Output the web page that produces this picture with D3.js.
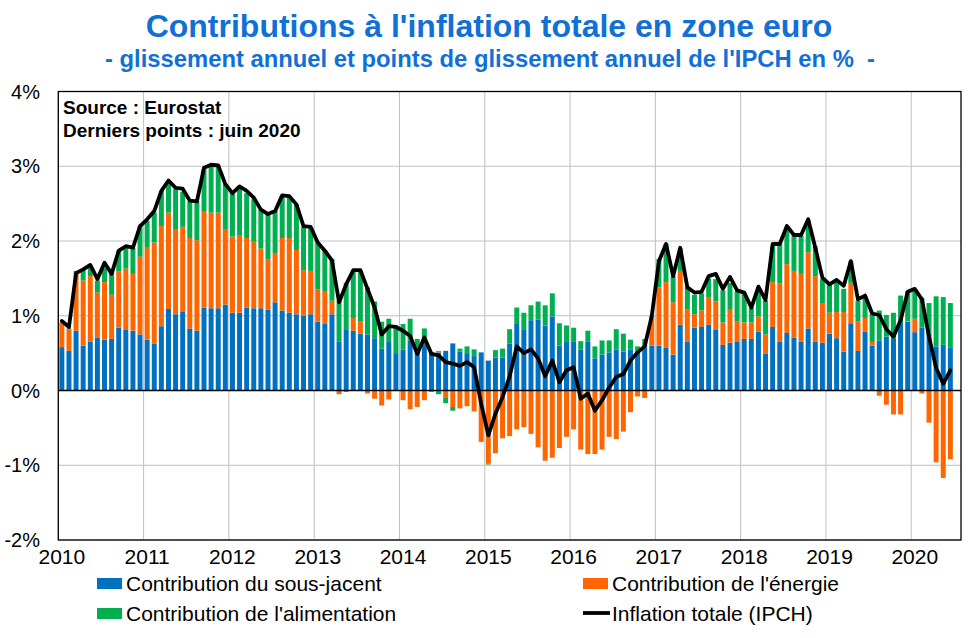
<!DOCTYPE html>
<html><head><meta charset="utf-8">
<script src="https://cdn.jsdelivr.net/npm/d3@7"></script>
<style>body{margin:0;background:#fff} svg{display:block;font-family:"Liberation Sans",Arial,sans-serif}</style>
</head><body><svg id="c" width="976" height="638"></svg>
<script>
const yearLabels = ["2010","2011","2012","2013","2014","2015","2016","2017","2018","2019","2020"];
const yTicks = [-2,-1,0,1,2,3,4];
const seriesNames = ["Contribution du sous-jacent","Contribution de l'énergie","Contribution de l'alimentation","Inflation totale (IPCH)"];
// monthly, Jan 2010 .. Jun 2020
const core = [
0.58,0.53,0.80,0.60,0.65,0.71,0.68,0.69,0.84,0.81,0.80,0.75,
0.68,0.63,0.86,1.09,1.02,1.05,0.83,0.80,1.11,1.10,1.10,1.15,
1.04,1.04,1.11,1.10,1.10,1.08,1.18,1.07,1.04,1.02,1.00,1.02,
0.92,0.89,1.02,0.65,0.81,0.80,0.76,0.75,0.70,0.56,0.66,0.50,
0.55,0.67,0.56,0.62,0.49,0.51,0.53,0.63,0.52,0.50,0.46,0.51,
0.40,0.44,0.44,0.63,0.89,0.81,0.94,0.95,0.87,0.99,0.60,0.65,
0.65,0.55,0.65,0.43,0.48,0.51,0.55,0.52,0.55,0.53,0.58,0.60,
0.60,0.57,0.48,0.88,0.65,0.84,0.85,0.88,0.81,0.61,0.64,0.65,
0.69,0.69,0.79,0.49,0.85,0.65,0.77,0.71,0.65,0.83,0.65,0.64,
0.76,0.70,0.52,0.90,0.53,0.79,0.60,0.67,0.72,0.69,0.89,0.92,
0.78,0.84,0.76,0.59,0.61,0.57];
const energy = [
0.33,0.29,0.78,0.87,0.88,0.60,0.77,0.59,0.75,0.82,0.76,1.04,
1.24,1.35,1.34,1.29,1.14,1.14,1.21,1.21,1.28,1.28,1.28,1.00,
1.02,1.04,0.93,0.89,0.80,0.67,0.66,0.97,1.00,0.86,0.61,0.58,
0.43,0.43,0.18,-0.05,-0.02,0.17,0.16,-0.04,-0.11,-0.20,-0.12,0.00,
-0.13,-0.25,-0.22,-0.13,-0.02,0.02,-0.10,-0.22,-0.24,-0.21,-0.28,-0.68,
-0.98,-0.84,-0.64,-0.61,-0.52,-0.49,-0.58,-0.76,-0.94,-0.90,-0.77,-0.62,
-0.52,-0.79,-0.85,-0.85,-0.79,-0.62,-0.65,-0.55,-0.29,-0.08,-0.10,0.39,
0.78,0.88,0.70,0.72,0.43,0.18,0.22,0.37,0.38,0.30,0.45,0.27,
0.22,0.22,0.20,0.26,0.60,0.78,0.92,0.89,0.91,1.02,0.88,0.53,
0.28,0.35,0.53,0.54,0.39,0.18,0.05,-0.07,-0.19,-0.32,-0.32,0.01,
0.18,-0.04,-0.43,-0.96,-1.17,-0.92];
const food = [
0.00,0.01,0.02,0.14,0.11,0.16,0.19,0.30,0.28,0.28,0.35,0.41,
0.35,0.40,0.47,0.40,0.53,0.47,0.49,0.52,0.57,0.64,0.63,0.61,
0.58,0.63,0.60,0.57,0.52,0.61,0.56,0.56,0.56,0.61,0.58,0.58,
0.63,0.55,0.56,0.55,0.63,0.63,0.68,0.63,0.49,0.36,0.30,0.37,
0.34,0.29,0.13,0.21,0.02,-0.05,-0.07,-0.05,0.04,0.09,0.09,-0.01,
-0.01,0.10,0.12,0.19,0.22,0.23,0.20,0.24,0.27,0.31,0.30,0.22,
0.19,0.11,0.15,0.16,0.19,0.16,0.27,0.24,0.13,0.06,0.11,0.01,
0.38,0.51,0.35,0.30,0.30,0.26,0.23,0.25,0.30,0.43,0.35,0.41,
0.40,0.20,0.34,0.45,0.48,0.53,0.49,0.47,0.51,0.42,0.40,0.32,
0.38,0.42,0.31,0.29,0.28,0.29,0.37,0.40,0.29,0.35,0.38,0.40,
0.37,0.40,0.41,0.67,0.64,0.60];
const total = [
0.93,0.85,1.57,1.62,1.68,1.49,1.71,1.56,1.87,1.93,1.91,2.20,
2.29,2.40,2.67,2.81,2.71,2.70,2.54,2.53,2.98,3.02,3.01,2.76,
2.64,2.73,2.67,2.58,2.42,2.36,2.40,2.61,2.60,2.49,2.20,2.19,
1.98,1.87,1.74,1.18,1.42,1.61,1.61,1.36,1.11,0.75,0.86,0.85,
0.80,0.73,0.49,0.71,0.49,0.47,0.38,0.36,0.33,0.38,0.31,-0.18,
-0.60,-0.31,-0.09,0.19,0.59,0.50,0.55,0.43,0.19,0.40,0.11,0.27,
0.31,-0.11,-0.04,-0.27,-0.13,0.04,0.18,0.22,0.40,0.51,0.59,1.00,
1.73,1.96,1.53,1.91,1.38,1.31,1.32,1.53,1.56,1.36,1.52,1.34,
1.31,1.11,1.39,1.21,1.96,1.96,2.20,2.08,2.08,2.29,1.91,1.51,
1.42,1.48,1.40,1.73,1.22,1.27,1.03,1.01,0.82,0.72,0.94,1.32,
1.36,1.22,0.72,0.30,0.09,0.27];

const colors = {core:"#0070C0", energy:"#FF6600", food:"#00B050"};
const svg = d3.select("#c");
const L = 58.3, R = 961, T = 91.5, B = 540;
const nSlots = 127;
const x = d3.scaleLinear().domain([0, nSlots]).range([L, R]);
const y = d3.scaleLinear().domain([-2, 4]).range([B, T]);

// titles
svg.append("text").attr("x", 489).attr("y", 37).attr("text-anchor","middle")
  .attr("font-size", 32).attr("font-weight","bold").attr("fill","#1170D6")
  .text("Contributions à l'inflation totale en zone euro");
svg.append("text").attr("x", 490).attr("y", 67).attr("text-anchor","middle")
  .attr("font-size", 23.8).attr("font-weight","bold").attr("fill","#1170D6")
  .attr("xml:space","preserve").style("white-space","pre")
  .text("- glissement annuel et points de glissement annuel de l'IPCH en %  -");

// gridlines
const g = svg.append("g");
g.selectAll("line.h").data(yTicks).join("line")
  .attr("x1", L).attr("x2", R).attr("y1", d=>y(d)).attr("y2", d=>y(d))
  .attr("stroke", "#BFBFBF").attr("stroke-width", 1);
g.selectAll("line.v").data(yearLabels.map((d,i)=>i*12)).join("line")
  .attr("x1", d=>x(d)).attr("x2", d=>x(d)).attr("y1", T).attr("y2", B)
  .attr("stroke", "#BFBFBF").attr("stroke-width", 1);

// stacked bars
const rows = core.map((c,i)=>({i, core:c, energy:energy[i], food:food[i]}));
const stack = d3.stack().keys(["core","energy","food"]).offset(d3.stackOffsetDiverging);
const layers = stack(rows);
const bw = 0.7;
svg.append("g").selectAll("g").data(layers).join("g").attr("fill", d=>colors[d.key])
  .selectAll("rect").data(d=>d).join("rect")
  .attr("x", d=>x(d.data.i + (1-bw)/2))
  .attr("width", x(bw) - x(0))
  .attr("y", d=>y(Math.max(d[0], d[1])))
  .attr("height", d=>Math.abs(y(d[0]) - y(d[1])));

// zero line
svg.append("line").attr("x1", L).attr("x2", R).attr("y1", y(0)).attr("y2", y(0))
  .attr("stroke","#000").attr("stroke-width",1.5);

// total line
svg.append("path").datum(total)
  .attr("d", d3.line().x((d,i)=>x(i+0.5)).y(d=>y(d)))
  .attr("fill","none").attr("stroke","#000").attr("stroke-width",3.8)
  .attr("stroke-linejoin","round").attr("stroke-linecap","round");

// frame
svg.append("rect").attr("x", L).attr("y", T).attr("width", R-L).attr("height", B-T)
  .attr("fill","none").attr("stroke","#000").attr("stroke-width",1.3);

// y labels
svg.append("g").selectAll("text").data(yTicks).join("text")
  .attr("x", 40).attr("y", d=>y(d)+7).attr("text-anchor","end")
  .attr("font-size", 20).attr("fill","#000").text(d=>d+"%");

// x labels
svg.append("g").selectAll("text").data(yearLabels).join("text")
  .attr("x", (d,i)=>x(i*12+0.5)).attr("y", 564).attr("text-anchor","middle")
  .attr("font-size", 21).attr("fill","#000").text(d=>d);

// source
svg.append("text").attr("x", 63).attr("y", 114).attr("font-size", 19).attr("font-weight","bold").text("Source : Eurostat");
svg.append("text").attr("x", 63).attr("y", 137).attr("font-size", 19).attr("font-weight","bold").text("Derniers points : juin 2020");

// legend
const leg = [
  {name: seriesNames[0], type:"rect", color: colors.core, x: 97, y: 583},
  {name: seriesNames[1], type:"rect", color: colors.energy, x: 583, y: 583},
  {name: seriesNames[2], type:"rect", color: colors.food, x: 97, y: 613},
  {name: seriesNames[3], type:"line", color: "#000", x: 583, y: 613}
];
const lg = svg.append("g").selectAll("g").data(leg).join("g");
lg.filter(d=>d.type==="rect").append("rect")
  .attr("x", d=>d.x).attr("y", d=>d.y-5).attr("width", 25).attr("height", 11).attr("fill", d=>d.color);
lg.filter(d=>d.type==="line").append("line")
  .attr("x1", d=>d.x).attr("x2", d=>d.x+27).attr("y1", d=>d.y).attr("y2", d=>d.y)
  .attr("stroke", "#000").attr("stroke-width", 3.8);
lg.append("text").attr("x", d=>d.x+29).attr("y", d=>d.y+7.5)
  .attr("font-size", 21).attr("fill","#000").text(d=>d.name);
</script></body></html>
